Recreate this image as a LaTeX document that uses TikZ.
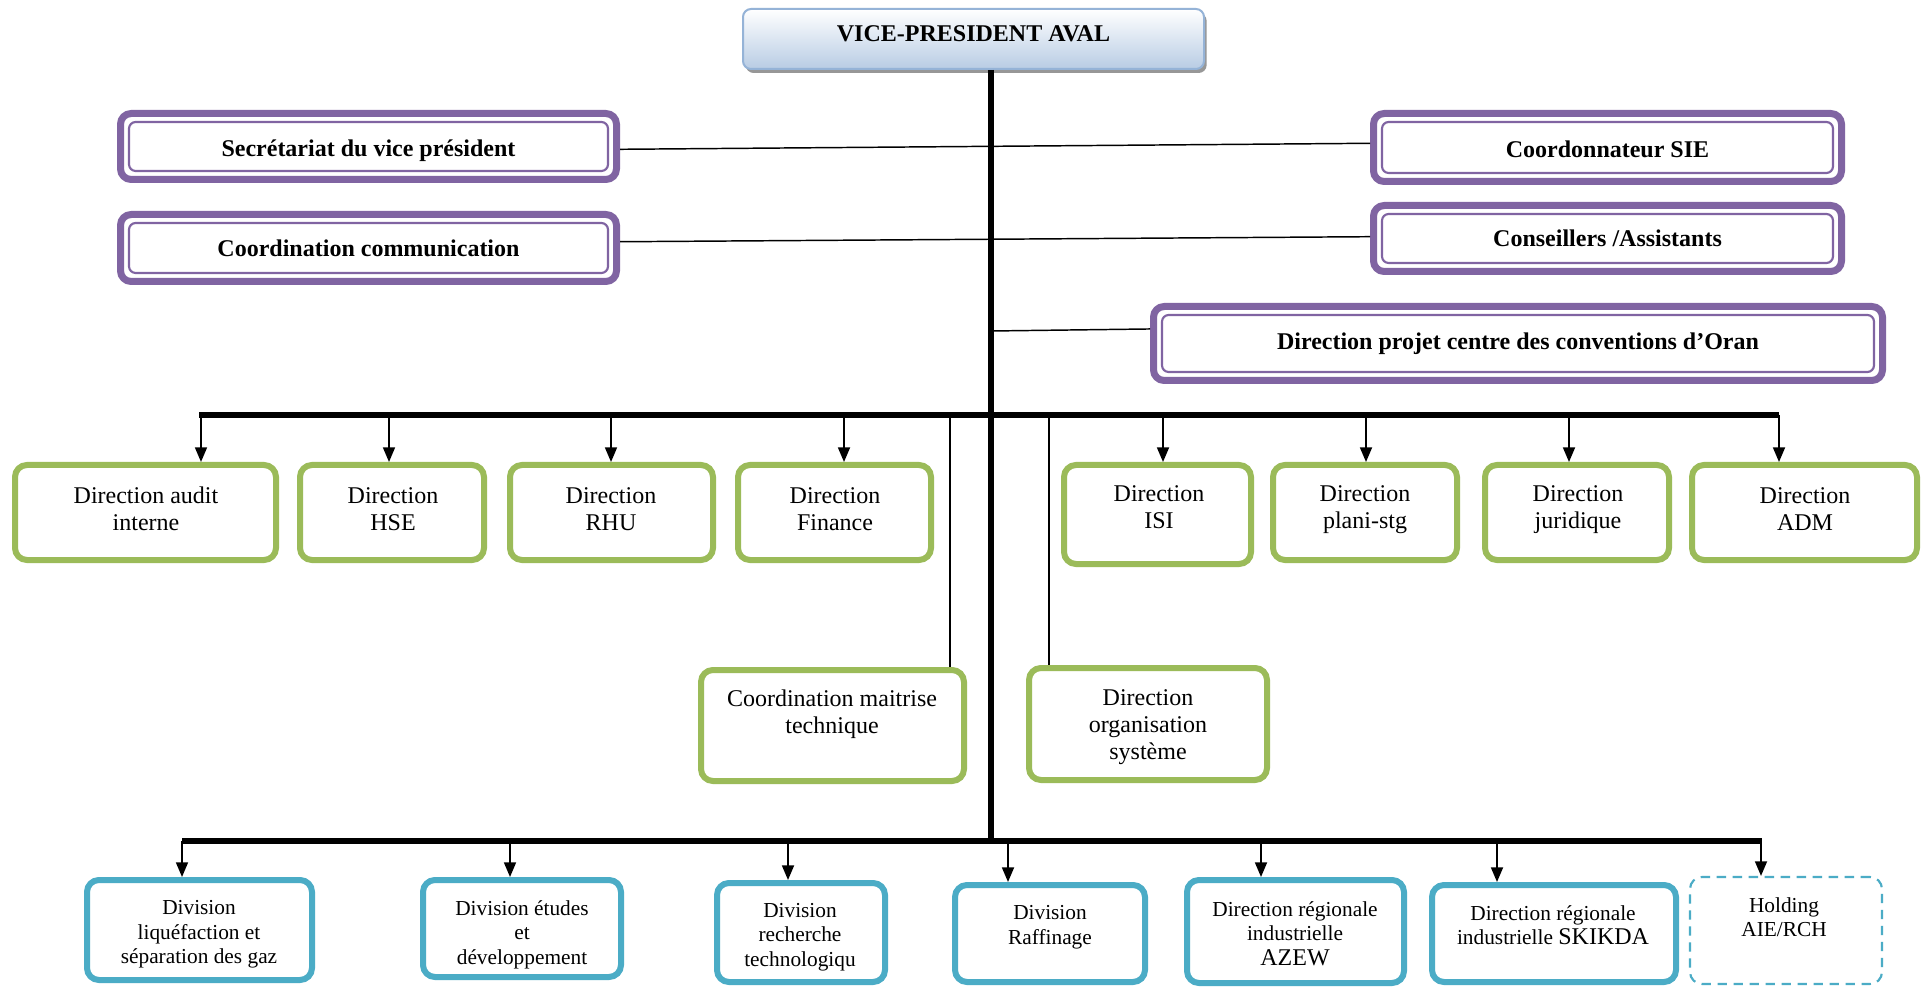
\documentclass[tikz,border=0pt]{standalone}
\usepackage{fontspec}
\setmainfont{Liberation Serif}
\usetikzlibrary{arrows.meta,shadows}
\definecolor{pur}{HTML}{8064A2}
\definecolor{grn}{HTML}{9BBB59}
\definecolor{blu}{HTML}{4BACC6}
\definecolor{topline}{HTML}{95B3D7}
\definecolor{topfill}{HTML}{B8CCE4}
% thin inner frame of the double purple boxes
\newcommand\frameinside[1]{\draw[pin] ([shift={(12,12)}]#1.north west) rectangle ([shift={(-12,-12)}]#1.south east);}
\begin{document}
\begin{tikzpicture}[x=0.75pt,y=-0.75pt,
  sz/.style 2 args={minimum width=#1*0.75pt, minimum height=#2*0.75pt},
  topbox/.style={draw=topline, line width=1.5pt, rounded corners=6pt, top color=white, bottom color=topfill,
    drop shadow={shadow xshift=2pt, shadow yshift=-3pt, fill=black!45, opacity=0.9},
    font=\bfseries\fontsize{18}{21}\selectfont, inner sep=0pt},
  pbox/.style={draw=pur, line width=5.25pt, rounded corners=8pt, fill=white,
    font=\bfseries\fontsize{18}{21}\selectfont, inner sep=0pt, text height=12.5pt, text depth=0.3pt},
  pin/.style={draw=pur, line width=1.6pt, rounded corners=5pt},
  gbox/.style={draw=grn, line width=4.5pt, rounded corners=9pt, inner sep=0pt},
  bbox/.style={draw=blu, line width=4.5pt, rounded corners=9pt, inner sep=0pt},
  hbox/.style={draw=blu, line width=1.6pt, dash pattern=on 7pt off 5pt, rounded corners=9pt, inner sep=0pt},
  gtxt/.style={align=center, font=\fontsize{18}{20.25}\selectfont, inner sep=0pt},
  btxt/.style={align=center, font=\fontsize{16}{18.4}\selectfont, inner sep=0pt},
  link/.style={line width=1.1pt},
  feed/.style={line width=1.2pt},
  arr/.style={line width=1.3pt, -{Triangle[length=11pt,width=9pt]}},
  trunk/.style={line width=5pt},
  bus/.style={line width=4.3pt},
  lowbus/.style={line width=5pt},
]
\useasboundingbox (0,0) rectangle (1925,987);
\fill[white] (0,0) rectangle (1925,987);
\clip (0,0) rectangle (1925,987);

% head of the chart
\node[topbox, sz={461}{60}, text depth=8pt] (vp) at (973.5,39) {VICE-PRESIDENT AVAL};

% staff boxes
\node[pbox, sz={496}{66}, text height=16pt] (sec)  at (368.5,146.5) {Secrétariat du vice président};
\node[pbox, sz={496}{67}] (comm) at (368.5,248)   {Coordination communication};
\node[pbox, sz={468}{68}, text height=16pt] (sie)  at (1607.5,147.5) {Coordonnateur SIE};
\node[pbox, sz={468}{66}] (cons) at (1607.5,238.5) {Conseillers /Assistants};
\node[pbox, sz={729}{74}, text depth=4pt] (proj) at (1518,343.5) {Direction projet centre des conventions d’Oran};
\foreach \b in {sec,comm,sie,cons,proj}{\frameinside{\b}}

% main trunk and buses
\coordinate (tbot) at (991,841);
\coordinate (tprj) at (991,331);
\coordinate (ml) at (199,415);
\coordinate (mr) at (1779,415);
\coordinate (bl) at (182,841);
\coordinate (br) at (1762,841);

% direction boxes
\node[gbox, sz={261}{95}] (audit) at (145.5,512.5) {};
\node[gbox, sz={184}{95}] (hse)   at (392,512.5) {};
\node[gbox, sz={203}{95}] (rhu)   at (611.5,512.5) {};
\node[gbox, sz={193}{95}] (fin)   at (834.5,512.5) {};
\node[gbox, sz={187}{99}] (isi)   at (1157.5,514.5) {};
\node[gbox, sz={184}{95}] (plani) at (1365,512.5) {};
\node[gbox, sz={184}{95}] (jur)   at (1577,512.5) {};
\node[gbox, sz={225}{95}] (adm)   at (1804.5,512.5) {};
\node[gbox, sz={263}{111}] (cmt)  at (832.5,725.5) {};
\node[gbox, sz={238}{112}] (dor)  at (1148,724) {};

\node[gtxt] (audit-t) at (146,509)    {Direction audit\\interne};
\node[gtxt] (hse-t)   at (393,509.5)  {Direction\\HSE};
\node[gtxt] (rhu-t)   at (611,509.5)  {Direction\\RHU};
\node[gtxt] (fin-t)   at (835,509.5)  {Direction\\Finance};
\node[gtxt] (isi-t)   at (1159,507)   {Direction\\ISI};
\node[gtxt] (plani-t) at (1365,509.5) {Direction\\plani-stg};
\node[gtxt] (jur-t)   at (1578,509.5) {Direction\\juridique};
\node[gtxt] (adm-t)   at (1805,509.5) {Direction\\ADM};
\node[gtxt] (cmt-t)   at (832,714.5)  {Coordination maitrise\\technique};
\node[gtxt] (dor-t)   at (1148,727)   {Direction\\organisation\\système};

% divisions
\node[bbox, sz={225}{100}] (liq)  at (199.5,930) {};
\node[bbox, sz={198}{97}]  (etu)  at (522,928.5) {};
\node[bbox, sz={168}{99}]  (rech) at (801,932.5) {};
\node[bbox, sz={190}{97}]  (raf)  at (1050,933.5) {};
\node[bbox, sz={217}{103}] (azew) at (1295.5,931.5) {};
\node[bbox, sz={244}{97}]  (skik) at (1554,933.5) {};
\node[hbox, sz={192}{107}] (hold) at (1786,930.5) {};

\node[btxt] (liq-t)  at (199,934.5)  {Division\\liquéfaction et\\séparation des gaz};
\node[btxt] (etu-t)  at (522,934.5)  {Division études\\et\\développement};
\node[btxt] (rech-t) at (800,937)    {Division\\recherche\\technologiqu};
\node[btxt] (raf-t)  at (1050,927.5) {Division\\Raffinage};
\node[btxt] (azew-t) at (1295,933.5) {Direction régionale\\industrielle\\{\fontsize{18}{20}\selectfont AZEW}};
\node[btxt] (skik-t) at (1553,925)   {Direction régionale\\industrielle {\fontsize{18}{20}\selectfont SKIKDA}};
\node[btxt] (hold-t) at (1784,917)   {Holding\\AIE/RCH};

% staff links
\draw[link] ([yshift=-2.1pt]sec.east) -- ([yshift=3.15pt]sie.west);
\draw[link] ([yshift=4.7pt]comm.east) -- ([yshift=1.35pt]cons.west);
\draw[link] (tprj) -- ([yshift=10.9pt]proj.west);

% trunk and buses
\draw[trunk] (vp.south -| tbot) -- (tbot);
\draw[bus] (ml) -- (mr);
\draw[lowbus] (bl) -- (br);

% arrows to the directions
\foreach \x/\n in {201/audit,389/hse,611/rhu,844/fin,1163/isi,1366/plani,1569/jur,1779/adm}{
  \coordinate (m-\n) at (\x,415);
  \draw[arr] (m-\n) -- (m-\n |- \n.north);
}
\coordinate (m-cmt) at (950,415);
\coordinate (m-dor) at (1049,415);
\draw[feed] (m-cmt) -- (m-cmt |- cmt.north);
\draw[feed] (m-dor) -- (m-dor |- dor.north);

% arrows to the divisions
\foreach \x/\n in {182/liq,510/etu,788/rech,1008/raf,1261/azew,1497/skik,1761/hold}{
  \coordinate (b-\n) at (\x,841);
  \draw[arr] (b-\n) -- (b-\n |- \n.north);
}
\end{tikzpicture}
\end{document}
